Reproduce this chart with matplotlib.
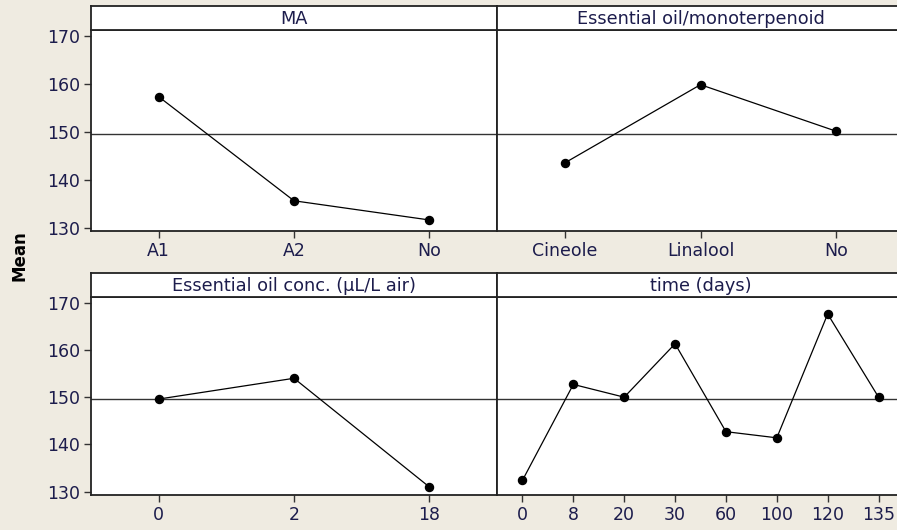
import matplotlib
matplotlib.use("Agg")
import matplotlib.pyplot as plt

# ---- data ----
ma_levels = ["A1", "A2", "No"]
ma_means = [157.3, 135.6, 131.6]

oil_levels = ["Cineole", "Linalool", "No"]
oil_means = [143.5, 159.8, 150.1]

conc_levels = ["0", "2", "18"]
conc_means = [149.6, 154.0, 131.0]

time_levels = ["0", "8", "20", "30", "60", "100", "120", "135"]
time_means = [132.4, 152.7, 150.0, 161.3, 142.7, 141.4, 167.6, 150.0]

grand_mean = 149.6
y_ticks = [130, 140, 150, 160, 170]

titles = ["MA", "Essential oil/monoterpenoid",
          "Essential oil conc. (\u00b5L/L air)", "time (days)"]

# ---- style ----
bg = "#EFEBE1"
tick_col = "#1c1c4c"
plt.rcParams['font.family'] = ['DejaVu Sans']

W, H = 897, 530
fig = plt.figure(figsize=(W / 100, H / 100), dpi=100, facecolor=bg)

def fx(px):
    return px / W

def fy(py):
    return 1 - py / H

panels = [
    (ma_levels, ma_means, 91, 497, 30, 231, 6, True),
    (oil_levels, oil_means, 497, 904, 30, 231, 6, False),
    (conc_levels, conc_means, 91, 497, 297, 495, 273, True),
    (time_levels, time_means, 497, 904, 297, 495, 273, False),
]

for (levels, means, x0, x1, ytop, ybot, stop, left), title in zip(panels, titles):
    ax = fig.add_axes([fx(x0), fy(ybot), fx(x1 - x0), (ybot - ytop) / H])
    ax.set_facecolor("white")
    xs = list(range(len(levels)))
    ax.axhline(grand_mean, color="#333333", lw=1.0, zorder=1)
    ax.plot(xs, means, color="black", lw=0.9, marker="o", ms=5.8,
            markerfacecolor="black", markeredgecolor="black", zorder=3)
    ax.set_xlim(-0.5, len(levels) - 0.5)
    ax.set_ylim(129.3, 171.2)
    ax.set_xticks(xs)
    ax.set_xticklabels(levels)
    ax.tick_params(axis="x", direction="out", length=5, width=1.0,
                   colors="#333333", labelcolor=tick_col, labelsize=12.5, pad=3)
    if left:
        ax.set_yticks(y_ticks)
        ax.tick_params(axis="y", direction="out", length=5, width=1.0,
                       colors="#333333", labelcolor=tick_col, labelsize=12.5, pad=3)
    else:
        ax.set_yticks([])
    for s in ax.spines.values():
        s.set_color("#222222")
        s.set_linewidth(1.3)

    sax = fig.add_axes([fx(x0), fy(ytop), fx(x1 - x0), (ytop - stop) / H])
    sax.set_facecolor("white")
    sax.set_xticks([])
    sax.set_yticks([])
    for s in sax.spines.values():
        s.set_color("#222222")
        s.set_linewidth(1.3)
    sax.text(0.5, 0.45, title, transform=sax.transAxes, ha="center", va="center",
             fontsize=12.8, color=tick_col)

fig.text(fx(20), fy(256), "Mean", rotation=90, ha="center", va="center",
         fontsize=12, fontweight="bold", color="black")

fig.savefig("out.png", dpi=100, facecolor=bg)
